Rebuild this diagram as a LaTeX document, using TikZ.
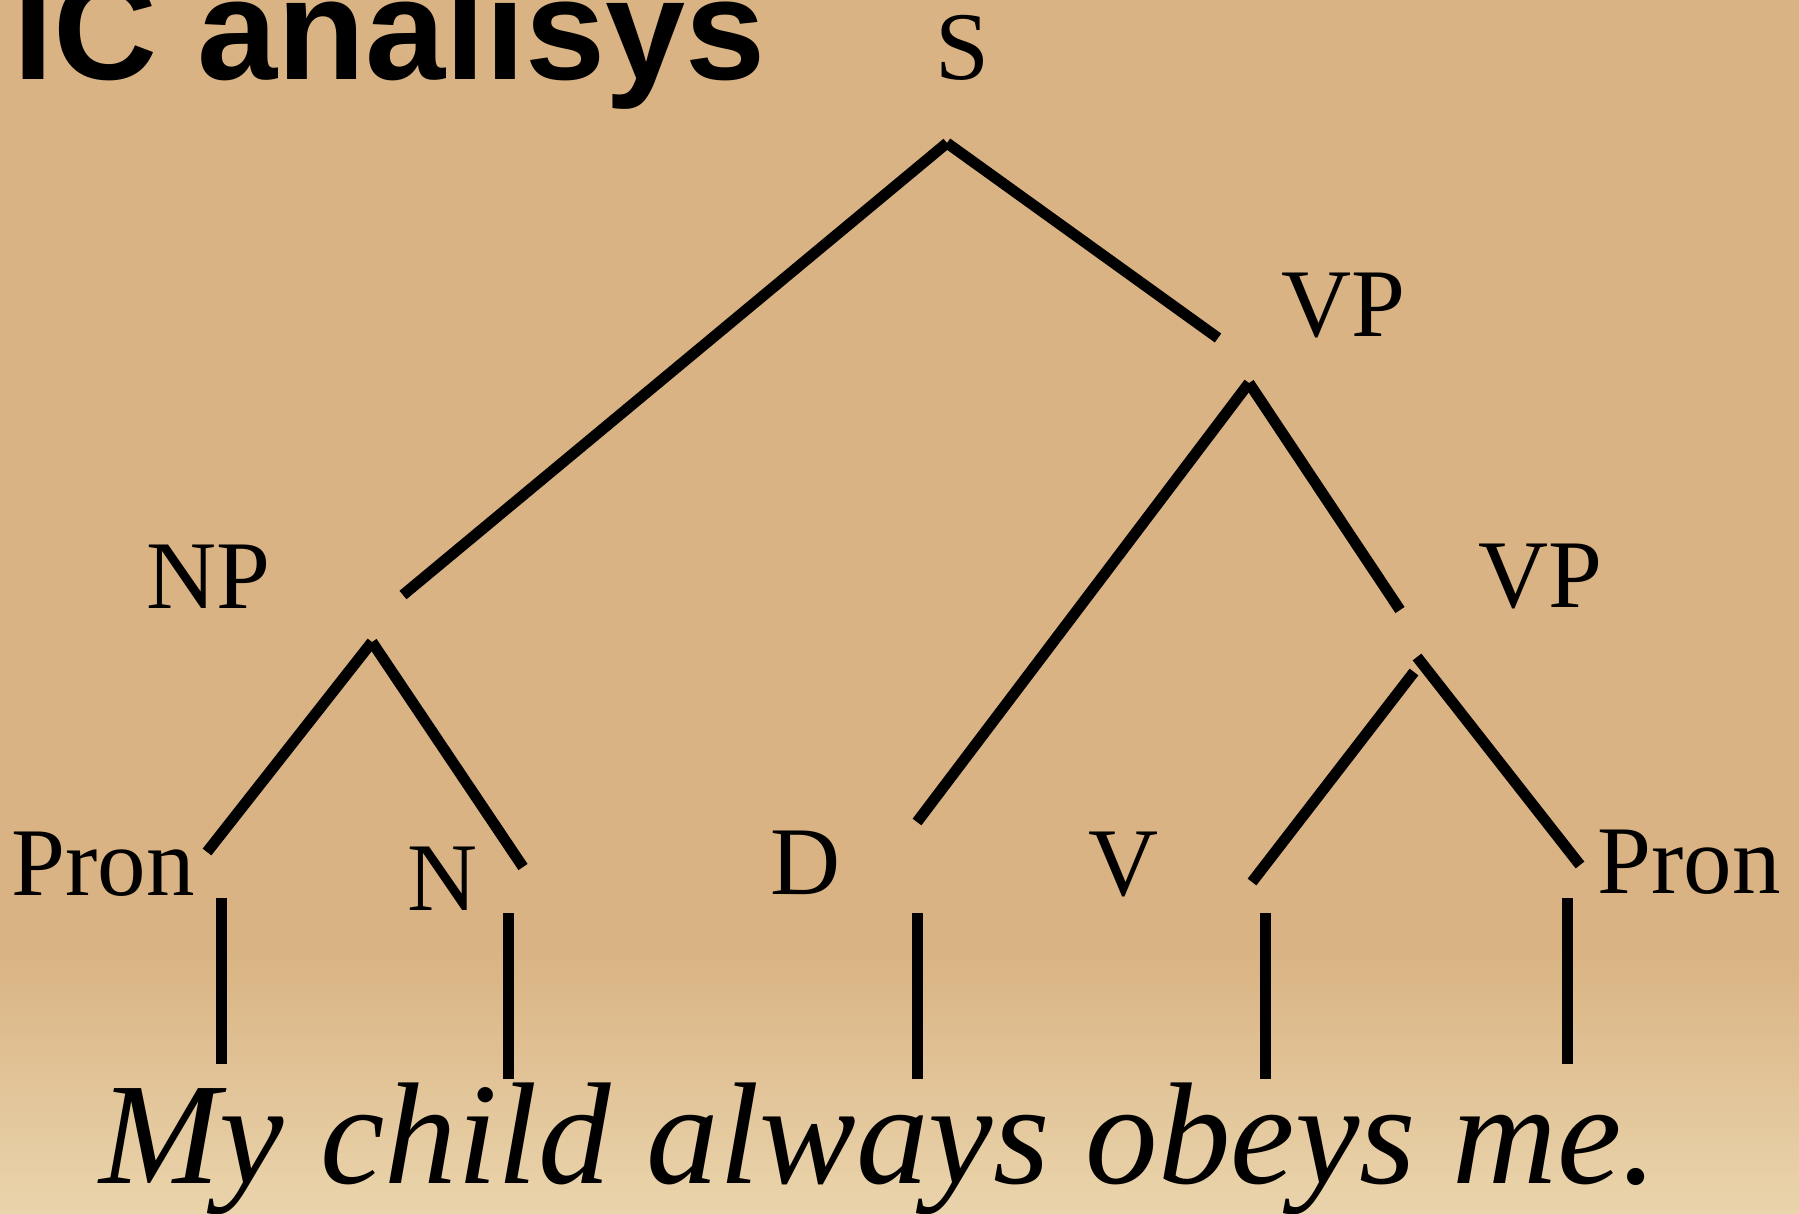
\documentclass[tikz,border=0pt]{standalone}
\usepackage{fontspec}
\setmainfont{Liberation Serif}
\newfontfamily\titlefont{Liberation Sans}
\definecolor{bgtan}{RGB}{217,179,131}
\definecolor{bglight}{RGB}{234,212,172}
\begin{document}
\begin{tikzpicture}[x=1pt,y=-1pt,
  branch/.style={line width=11pt, line cap=butt},
  lbl/.style={font=\fontsize{97}{97}\selectfont, inner sep=0pt, anchor=base}]
\useasboundingbox (0,0) rectangle (1799,1213);
\fill[bgtan] (0,0) rectangle (1799,1213);
\shade[top color=bgtan, bottom color=bglight] (0,950) rectangle (1799,1213);
% title
\node[anchor=base west, inner sep=0pt, font=\titlefont\bfseries\fontsize{144}{144}\selectfont] (title) at (13,79) {IC analisys};
% labels
\node[lbl] (S) at (962,79) {S};
\node[lbl] (VPa) at (1343,336) {VP};
\node[lbl] (NP) at (208,608) {NP};
\node[lbl] (VPb) at (1540,607) {VP};
\node[lbl] (ProA) at (103,895) {Pron};
\node[lbl] (N) at (443,910) {N};
\node[lbl] (D) at (806,894) {D};
\node[lbl] (V) at (1124,895) {V};
\node[lbl] (ProB) at (1689,893) {Pron};
% branch end points
\coordinate (sA) at (947,143);
\coordinate (sL) at (403,595);
\coordinate (sR) at (1218,338);
\coordinate (vA) at (1249,383);
\coordinate (vL) at (917,822);
\coordinate (vR) at (1400,610);
\coordinate (nA) at (372,642);
\coordinate (nL) at (207,852);
\coordinate (nR) at (523,867);
\coordinate (wAr) at (1417,657);
\coordinate (wR) at (1580,865);
\coordinate (wAl) at (1414,672);
\coordinate (wL) at (1252,882);
\coordinate (t1) at (221,898);  \coordinate (b1) at (221,1064);
\coordinate (t2) at (508,913);  \coordinate (b2) at (508,1079);
\coordinate (t3) at (917,913);  \coordinate (b3) at (917,1079);
\coordinate (t4) at (1265,913); \coordinate (b4) at (1265,1079);
\coordinate (t5) at (1567,898); \coordinate (b5) at (1567,1064);
% branches
\draw[branch] (sA) -- (sL);
\draw[branch] (sA) -- (sR);
\draw[branch] (vA) -- (vL);
\draw[branch] (vA) -- (vR);
\draw[branch] (nA) -- (nL);
\draw[branch] (nA) -- (nR);
\draw[branch] (wAr) -- (wR);
\draw[branch] (wAl) -- (wL);
\draw[branch] (t1) -- (b1);
\draw[branch] (t2) -- (b2);
\draw[branch] (t3) -- (b3);
\draw[branch] (t4) -- (b4);
\draw[branch] (t5) -- (b5);
% sentence
\node[anchor=base west, inner sep=0pt, font=\itshape\fontsize{145}{145}\selectfont] (sent) at (99,1183) {My child always obeys me.};
\end{tikzpicture}
\end{document}
